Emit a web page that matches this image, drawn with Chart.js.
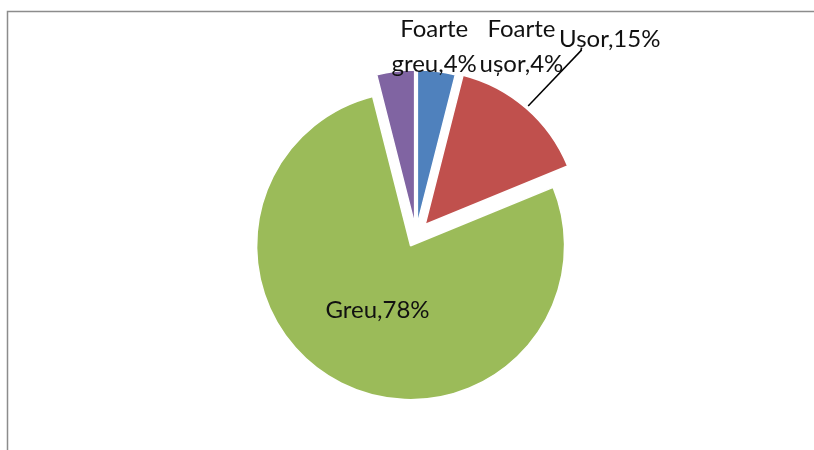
<!DOCTYPE html>
<html>
<head>
<meta charset="utf-8">
<script src="https://cdn.jsdelivr.net/npm/chart.js@4"></script>
<style>
  html, body { margin: 0; padding: 0; background: #fff; }
  #wrap { position: relative; width: 814px; height: 450px; }
</style>
</head>
<body>
<div id="wrap"><canvas id="pieChart"></canvas></div>
<script>
// Categories and their shares (percent)
const categories = ['Foarte ușor', 'Ușor', 'Greu', 'Foarte greu'];
const values = [4, 15, 78, 4];
const colors = ['#4F81BD', '#C0504D', '#9BBB59', '#8064A2'];

// How far each slice is pulled out of the pie (px)
const explode = [11, 14, 12, 11];

// Label spot for each slice, relative to the slice's own centre:
// angle in degrees clockwise from 12 o'clock, distance in px
const labelSpots = [
  { angle: 30.5, dist: 205, wrap: true },
  { angle: 45, dist: 261, wrap: false, leader: true },
  { angle: 206.8, dist: 73.5, wrap: false },
  { angle: 6.3, dist: 178, wrap: true }
];

// grey frame of the chart box (top and left edges show)
const framePlugin = {
  id: 'frame',
  beforeDraw(chart) {
    const ctx = chart.ctx;
    ctx.save();
    ctx.strokeStyle = '#8c8c8c';
    ctx.lineWidth = 1.5;
    ctx.beginPath();
    ctx.moveTo(7.5, chart.height);
    ctx.lineTo(7.5, 11.5);
    ctx.lineTo(chart.width, 11.5);
    ctx.stroke();
    ctx.restore();
  }
};

// push slices outward along their middle angle
const explodePlugin = {
  id: 'explode',
  afterDatasetsUpdate(chart) {
    chart.getDatasetMeta(0).data.forEach((arc, i) => {
      const mid = (arc.startAngle + arc.endAngle) / 2;
      arc.x += Math.cos(mid) * explode[i];
      arc.y += Math.sin(mid) * explode[i];
    });
  }
};

// "Name,value%" labels like Excel's
const labelPlugin = {
  id: 'sliceLabels',
  afterDatasetsDraw(chart) {
    const ctx = chart.ctx;
    const arcs = chart.getDatasetMeta(0).data;
    ctx.save();
    ctx.font = '24px Lato';
    ctx.fillStyle = '#111';
    ctx.textAlign = 'center';
    arcs.forEach((arc, i) => {
      const spot = labelSpots[i];
      const a = spot.angle * Math.PI / 180;
      const lx = arc.x + Math.sin(a) * spot.dist;
      const ly = arc.y - Math.cos(a) * spot.dist;
      const text = categories[i] + ',' + values[i] + '%';
      const lines = spot.wrap ? text.replace(' ', '\n').split('\n') : [text];
      if (spot.leader) {
        const mid = (arc.startAngle + arc.endAngle) / 2;
        const r = arc.outerRadius + 3;
        ctx.beginPath();
        ctx.moveTo(arc.x + Math.cos(mid) * r, arc.y + Math.sin(mid) * r);
        ctx.lineTo(lx - 28, ly + 10);
        ctx.strokeStyle = '#000';
        ctx.lineWidth = 1.5;
        ctx.stroke();
      }
      lines.forEach((line, k) => {
        ctx.fillText(line, lx, ly + (k - (lines.length - 1) / 2) * 35 + 7);
      });
    });
    ctx.restore();
  }
};

new Chart(document.getElementById('pieChart'), {
  type: 'pie',
  data: {
    labels: categories,
    datasets: [{
      data: values,
      backgroundColor: colors,
      borderColor: '#fff',
      borderWidth: 1.5,
      radius: 154
    }]
  },
  options: {
    responsive: true,
    maintainAspectRatio: false,
    animation: false,
    events: [],
    layout: { padding: { left: 18, top: 20 } },
    plugins: {
      legend: { display: false },
      tooltip: { enabled: false }
    }
  },
  plugins: [framePlugin, explodePlugin, labelPlugin]
});
</script>
</body>
</html>
